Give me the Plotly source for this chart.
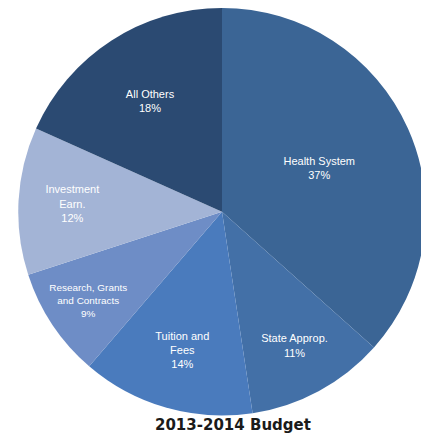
import plotly.graph_objects as go

labels = ["Health System", "State Approp.", "Tuition and<br>Fees", "Research, Grants<br>and Contracts", "Investment<br>Earn.", "All Others"]
values = [36.6, 11.0, 13.7, 8.7, 11.7, 18.3]
colors = ["#3b6595", "#4370a7", "#4a7bbd", "#6e8dc6", "#a3b4d6", "#2b4a72"]
title_text = "2013-2014 Budget"

W, H = 429, 448
OFF = 8  # page body margin
cx, cy, r = 222 - OFF, 211.5 - OFF, 204

fig = go.Figure(go.Pie(
    labels=labels,
    values=values,
    sort=False,
    direction="clockwise",
    rotation=0,
    marker=dict(colors=colors, line=dict(width=0)),
    texttemplate="%{label}<br>%{percent:.0%}",
    textposition="inside",
    insidetextorientation="horizontal",
    textfont=dict(family="Liberation Sans, Arial", size=11, color="white"),
    domain=dict(x=[(cx - r) / W, (cx + r) / W], y=[max(0, (H - cy - r) / H), min(1, (H - cy + r) / H)]),
    showlegend=False,
    hoverinfo="label+percent",
))
fig.add_annotation(
    text="<b>" + title_text + "</b>",
    x=(233 - OFF) / W, y=(H - (436 - OFF)) / H, xref="paper", yref="paper",
    showarrow=False, font=dict(family="DejaVu Sans", size=15, color="#1a1a1a"),
)
fig.update_layout(
    width=W, height=H,
    margin=dict(l=0, r=0, t=0, b=0),
    paper_bgcolor="white",
    plot_bgcolor="white",
)
fig.write_html("out.html")
